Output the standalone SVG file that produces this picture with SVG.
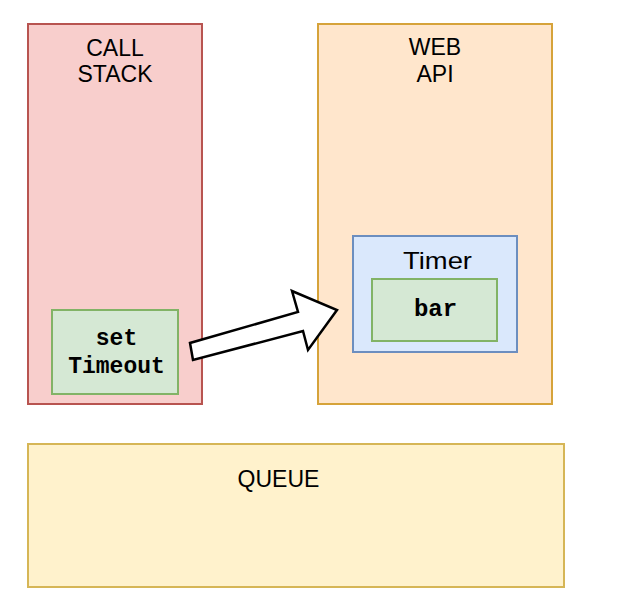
<svg xmlns="http://www.w3.org/2000/svg" width="623" height="610" viewBox="0 0 623 610">
<style>
.lbl{font-family:"Liberation Sans",Arial,Helvetica,sans-serif;font-size:23px;fill:#000;text-anchor:middle}
.code{font-family:"Liberation Mono","Courier New",monospace;font-weight:bold;font-size:23px;fill:#000;text-anchor:middle}
.box{stroke-width:2}
</style>
<rect width="623" height="610" fill="#ffffff"/>
<g id="call-stack">
<rect class="box" x="28" y="24" width="174" height="380" fill="#f8cecc" stroke="#b85450"/>
<text class="lbl" x="115" y="55.5">CALL</text>
<text class="lbl" x="115" y="81.5">STACK</text>
</g>
<g id="web-api">
<rect class="box" x="318" y="24" width="234" height="380" fill="#ffe6cc" stroke="#d6a33a"/>
<text class="lbl" x="435" y="55">WEB</text>
<text class="lbl" x="435" y="82">API</text>
</g>
<g id="queue">
<rect class="box" x="28" y="444" width="536" height="143" fill="#fff2cc" stroke="#d6b656"/>
<text class="lbl" x="278.5" y="487">QUEUE</text>
</g>
<g id="timer">
<rect class="box" x="353" y="236" width="164" height="116" fill="#dae8fc" stroke="#6c8ebf"/>
<text class="lbl" x="437.5" y="269" style="font-size:24px" textLength="69" lengthAdjust="spacingAndGlyphs">Timer</text>
</g>
<g id="bar">
<rect class="box" x="372" y="279" width="125" height="62" fill="#d5e8d4" stroke="#82b366"/>
<text class="code" x="435.5" y="316" style="font-size:24px">bar</text>
</g>
<g id="setTimeout">
<rect class="box" x="52" y="310" width="126" height="84" fill="#d5e8d4" stroke="#82b366"/>
<text class="code" x="116.5" y="345">set</text>
<text class="code" x="116.5" y="373">Timeout</text>
</g>
<g id="connectors">
<polygon points="193,360 190,343 298,312 292,291 337,310 308,350 303,331" fill="#ffffff" stroke="#000000" stroke-width="2.5" stroke-linejoin="miter"/>
</g>
</svg>
